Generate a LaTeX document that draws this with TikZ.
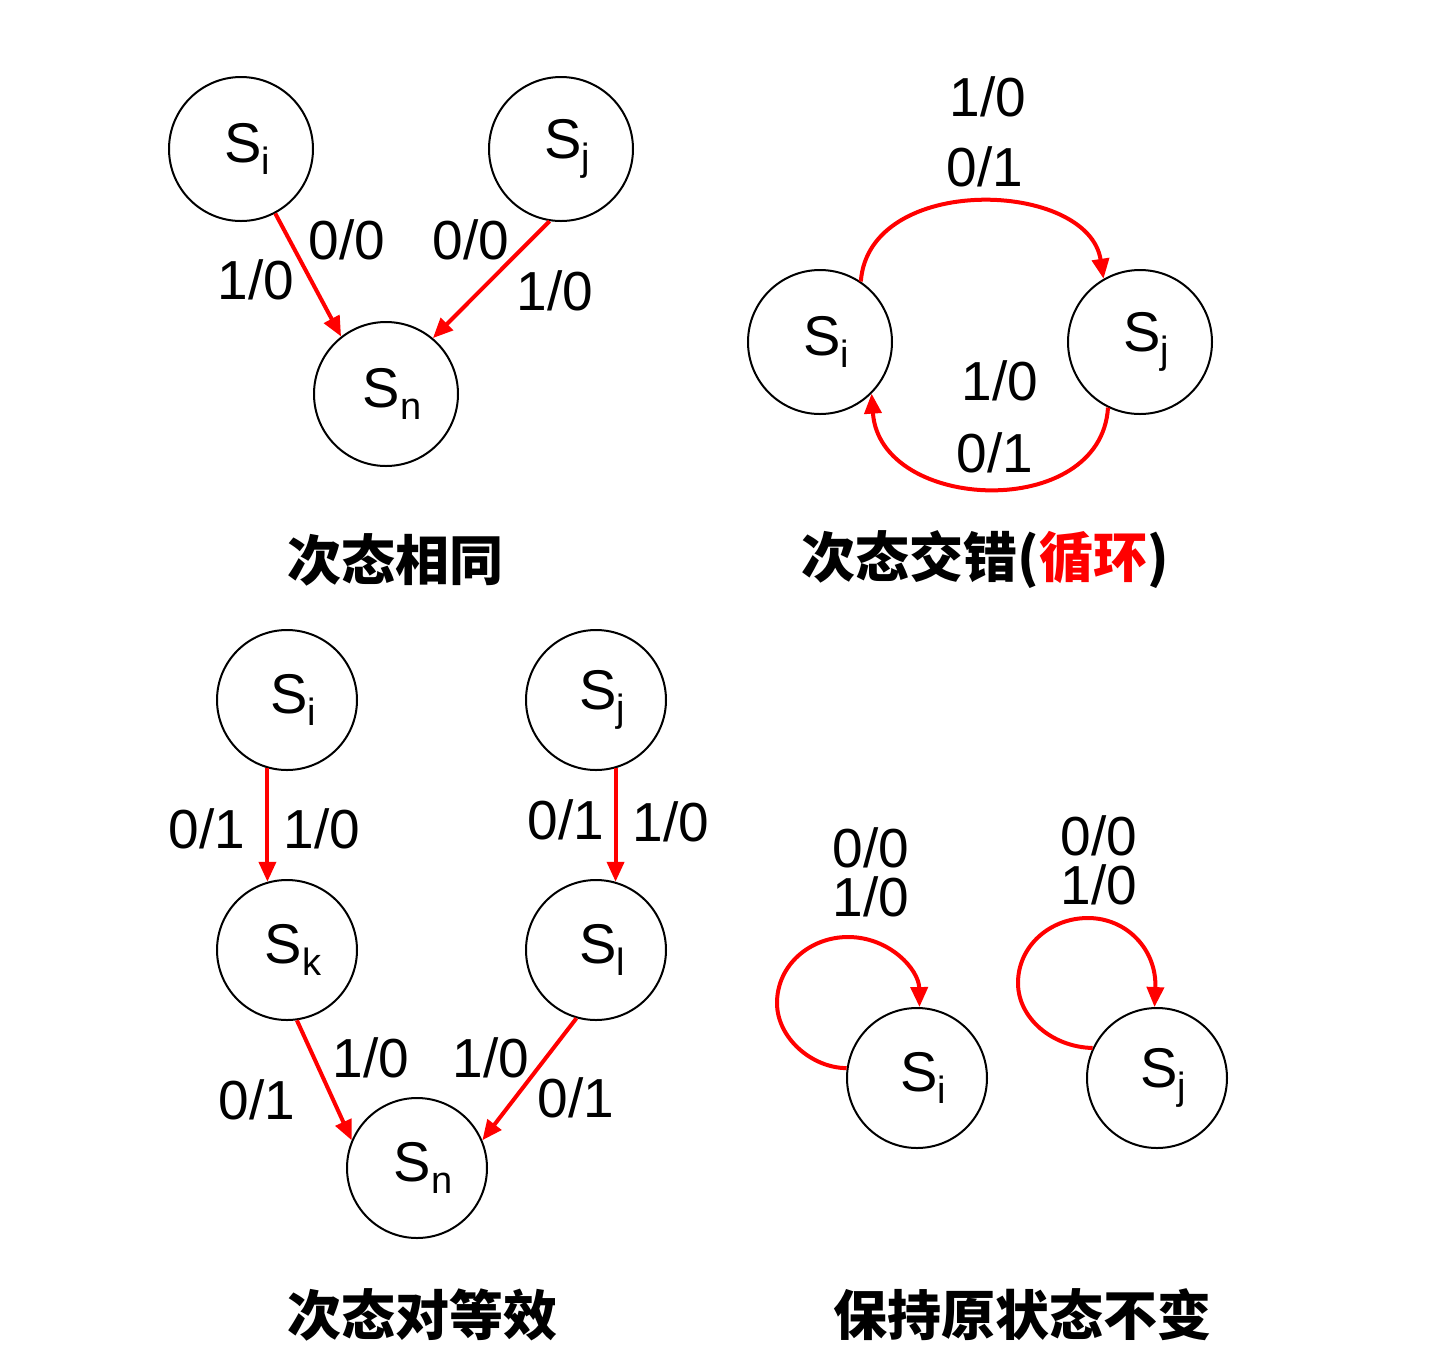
\documentclass[tikz,border=0pt]{standalone}
\usepackage{fontspec}
\setmainfont{Liberation Sans}
\newfontfamily\cjk{Noto Sans CJK SC}
\usetikzlibrary{arrows.meta}
\newcommand\mystate[1]{\hspace*{6pt}S\raisebox{-6pt}{\fontsize{19}{19}\selectfont #1}}
\begin{document}
\begin{tikzpicture}[x=0.5pt,y=-0.5pt,
  state/.style={circle,draw,line width=1pt,minimum size=72pt,inner sep=0pt,font=\fontsize{28}{30}\selectfont},
  state3/.style={state,minimum size=70pt},
  tr/.style={draw=red,line width=2pt,-{Triangle[length=10pt,width=8.5pt]}},
  lab/.style={font=\fontsize{27.5}{30}\selectfont,inner sep=0pt},
  lab2/.style={font=\fontsize{27.5}{24.5}\selectfont,inner sep=0pt,align=center},
  title/.style={font=\cjk\bfseries\fontsize{27}{30}\selectfont,inner sep=0pt}]
\useasboundingbox[fill=white] (0,0) rectangle (1432,1362);
% panel 1
\node[state] (a1) at (241,149) {\mystate{i}};
\node[state] (a2) at (561,149) {\mystate{j}};
\node[state] (a3) at (386,394) {\mystate{n}};
\draw[tr] (a1.-62) -- (a3.128);
\draw[tr] (a2.-99) -- (a3.50);
\node[lab] (l1) at (347,240) {0/0};
\node[lab] (l2) at (256,280) {1/0};
\node[lab] (l3) at (471,240) {0/0};
\node[lab] (l4) at (555,291) {1/0};
\node[title] (t1) at (395,560) {次态相同};
% panel 2
\node[state] (b1) at (820,342) {\mystate{i}};
\node[state] (b2) at (1140,342) {\mystate{j}};
\draw[tr] (b1.56) .. controls +(8,-109) and +(-15,-99) .. (b2.120);
\draw[tr] (b2.-116) .. controls +(-7,114) and +(8,119) .. (b1.-45);
\node[lab] (l5) at (988,97) {1/0};
\node[lab] (l6) at (985,167) {0/1};
\node[lab] (l7) at (1000,381) {1/0};
\node[lab] (l8) at (995,453) {0/1};
\node[title] (t2) at (985,560) {次态交错(\textcolor{red}{循环})};
% panel 3
\node[state3] (c1) at (287,700) {\mystate{i}};
\node[state3] (c2) at (596,700) {\mystate{j}};
\node[state3] (c3) at (287,950) {\mystate{k}};
\node[state3] (c4) at (596,950) {\mystate{l}};
\node[state3] (c5) at (417,1168) {\mystate{n}};
\draw[tr] (c1.-106) -- (c3.106);
\draw[tr] (c2.-74) -- (c4.74);
\draw[tr] (c3.-82) -- (c5.157);
\draw[tr] (c4.-106) -- (c5.23);
\node[lab] (m1) at (207,829) {0/1};
\node[lab] (m2) at (322,829) {1/0};
\node[lab] (m3) at (566,820) {0/1};
\node[lab] (m4) at (671,822) {1/0};
\node[lab] (m5) at (371,1058) {1/0};
\node[lab] (m6) at (257,1100) {0/1};
\node[lab] (m7) at (491,1058) {1/0};
\node[lab] (m8) at (576,1098) {0/1};
\node[title] (t3) at (422,1315) {次态对等效};
% panel 4
\node[state3] (d1) at (917,1078) {\mystate{i}};
\node[state3] (d2) at (1157,1078) {\mystate{j}};
\draw[tr] (d1.172) .. controls (812,1068) and (777,1038) .. (777,1003) .. controls (777,965) and (810,937) .. (848,937) .. controls (890,937) and (919,970) .. (d1.88);
\draw[tr] (d2.155) .. controls (1052,1047) and (1018,1018) .. (1018,983) .. controls (1018,946) and (1050,918) .. (1088,918) .. controls (1127,918) and (1157,950) .. (d2.92);
\node[lab2] (n1) at (871,872) {0/0\\1/0};
\node[lab2] (n3) at (1099,860) {0/0\\1/0};
\node[title] (t4) at (1022,1315) {保持原状态不变};
\end{tikzpicture}
\end{document}
